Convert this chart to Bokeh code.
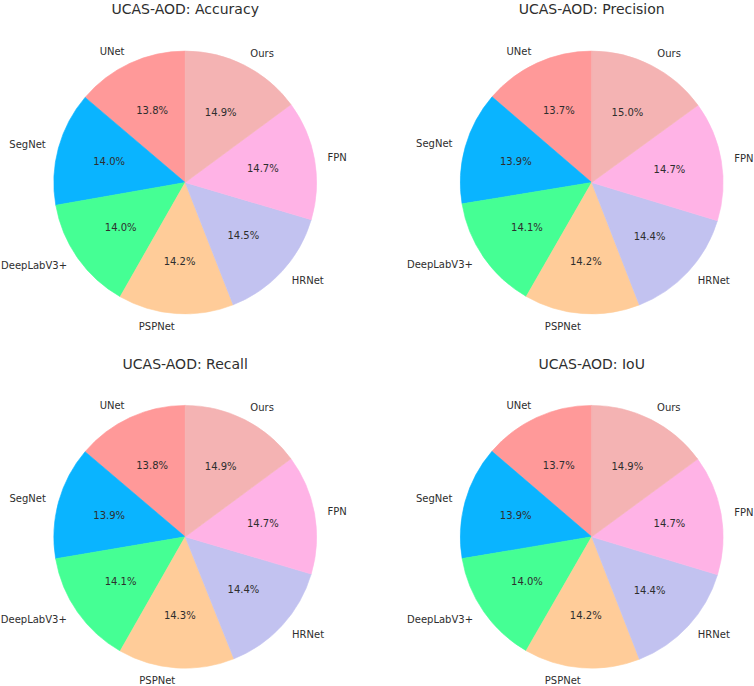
import math
from bokeh.plotting import figure
from bokeh.layouts import gridplot
from bokeh.models import ColumnDataSource, Range1d
from bokeh.core.properties import value
from bokeh.embed import file_html
from bokeh.resources import INLINE

# ---- data (percent shares) ----
models = ["UNet", "SegNet", "DeepLabV3+", "PSPNet", "HRNet", "FPN", "Ours"]
accuracy = [13.8, 14.0, 14.0, 14.2, 14.5, 14.7, 14.9]
precision = [13.7, 13.9, 14.1, 14.2, 14.4, 14.7, 15.0]
recall = [13.8, 13.9, 14.1, 14.3, 14.4, 14.7, 14.9]
iou = [13.7, 13.9, 14.0, 14.2, 14.4, 14.7, 14.9]
titles = ["UCAS-AOD: Accuracy", "UCAS-AOD: Precision", "UCAS-AOD: Recall", "UCAS-AOD: IoU"]
colors = ["#ff9999", "#0ab4ff", "#45ff94", "#ffcc99", "#c2c2f0", "#ffb3e6", "#f4b3b3"]

FONT = value("DejaVu Sans")
TXT = "#2e2e2e"
PW, PH = 377, 343
RPX = 131.4  # pie radius in pixels


def make_pie(vals, title, cx_px, cy_px, title_px):
    total = float(sum(vals))
    starts, ends, px, py = [], [], [], []
    lx_l, ly_l, lt_l, lx_r, ly_r, lt_r = [], [], [], [], [], []
    pcts = []
    cum = 0.0
    for m, v in zip(models, vals):
        a0 = math.pi / 2 + 2 * math.pi * cum / total
        cum += v
        a1 = math.pi / 2 + 2 * math.pi * cum / total
        starts.append(a0)
        ends.append(a1)
        mid = (a0 + a1) / 2
        px.append(0.6 * math.cos(mid))
        py.append(0.6 * math.sin(mid))
        pcts.append("%.1f%%" % (100.0 * v / total))
        x, y = 1.1 * math.cos(mid), 1.1 * math.sin(mid)
        if x < 0:
            lx_r.append(x); ly_r.append(y); lt_r.append(m)
        else:
            lx_l.append(x); ly_l.append(y); lt_l.append(m)

    x0 = -cx_px / RPX
    x1 = (PW - cx_px) / RPX
    y1 = cy_px / RPX
    y0 = -(PH - cy_px) / RPX
    p = figure(width=PW, height=PH, x_range=Range1d(x0, x1), y_range=Range1d(y0, y1),
               output_backend="svg", toolbar_location=None, min_border=0,
               outline_line_color=None, background_fill_color="white")
    p.axis.visible = False
    p.grid.visible = False

    src = ColumnDataSource(dict(start=starts, end=ends, color=colors))
    p.wedge(x=0, y=0, radius=1.0, start_angle="start", end_angle="end",
            fill_color="color", line_color="color", line_width=0.6, source=src)

    p.text(x=px, y=py, text=pcts, text_align="center", text_baseline="middle",
           text_font=FONT, text_font_size="10px", text_color=TXT)
    p.text(x=lx_l, y=ly_l, text=lt_l, text_align="left", text_baseline="middle",
           text_font=FONT, text_font_size="10px", text_color=TXT)
    p.text(x=lx_r, y=ly_r, text=lt_r, text_align="right", text_baseline="middle",
           text_font=FONT, text_font_size="10px", text_color=TXT)
    p.text(x=[0], y=[(cy_px - title_px) / RPX], text=[title], text_align="center",
           text_baseline="middle", text_font=FONT, text_font_size="14px", text_color=TXT)
    return p


p1 = make_pie(accuracy, titles[0], 184.7, 182.0, 8.5)
p2 = make_pie(precision, titles[1], 214.2, 182.0, 8.5)
p3 = make_pie(recall, titles[2], 184.7, 193.3, 20.0)
p4 = make_pie(iou, titles[3], 214.2, 193.3, 20.0)

grid = gridplot([[p1, p2], [p3, p4]], toolbar_location=None)
open("out.html", "w").write(file_html(grid, INLINE))
